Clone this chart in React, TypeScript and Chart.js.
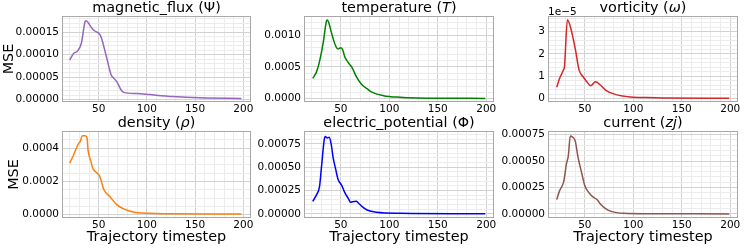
import React, { useEffect, useRef } from 'react';
import { Chart, registerables } from 'chart.js';

Chart.register(...registerables);

const FONT = '"DejaVu Sans", sans-serif';

// ---------- data ----------
const fluxSteps = [20, 24, 28, 32, 36, 37, 39, 43, 46, 51, 53, 58, 63, 65, 69, 73, 76, 90, 103, 127, 155, 198];
const fluxMSE = [8.8e-5, 1.03e-4, 1.08e-4, 1.25e-4, 1.74e-4, 1.76e-4, 1.72e-4, 1.59e-4, 1.53e-4, 1.46e-4, 1.37e-4, 9.6e-5, 5.5e-5, 4.9e-5, 3.95e-5, 2.25e-5, 1.6e-5, 1.35e-5, 1.1e-5, 6.7e-6, 3.8e-6, 2.4e-6];

const tempSteps = [21, 25, 28, 32, 35, 36, 38, 40, 43, 45, 47, 50, 52, 54, 57, 59, 62, 66, 71, 77, 83, 94, 111, 128, 163, 199];
const tempMSE = [3.2e-4, 4.27e-4, 5.84e-4, 9.0e-4, 1.215e-3, 1.24e-3, 1.178e-3, 1.057e-3, 9.0e-4, 8.2e-4, 7.84e-4, 8.05e-4, 7.68e-4, 6.63e-4, 5.84e-4, 5.42e-4, 4.79e-4, 3.47e-4, 2.32e-4, 1.58e-4, 9.5e-5, 4.8e-5, 2.2e-5, 1.1e-5, 6e-6, 5e-6];

const vortSteps = [21, 24, 28, 29, 32, 35, 40, 44, 48, 52, 56, 61, 66, 72, 83, 97, 114, 131, 199];
const vortMSE = [5.1e-6, 9.1e-6, 1.29e-5, 1.44e-5, 3.53e-5, 3.23e-5, 2.26e-5, 1.29e-5, 9.9e-6, 7.6e-6, 5.8e-6, 7.6e-6, 6.1e-6, 3.6e-6, 1.7e-6, 7.6e-7, 4.6e-7, 3.1e-7, 1.7e-7];

const densSteps = [20, 24, 29, 31, 33, 36, 38, 39, 42, 44, 48, 51, 53, 55, 62, 69, 76, 86, 103, 120, 198];
const densMSE = [3.09e-4, 3.59e-4, 4.26e-4, 4.41e-4, 4.75e-4, 4.75e-4, 4.61e-4, 3.9e-4, 3.19e-4, 2.78e-4, 2.52e-4, 2.32e-4, 1.97e-4, 1.56e-4, 1.06e-4, 5.9e-5, 3.5e-5, 1.6e-5, 8e-6, 6e-6, 4e-6];

const elecSteps = [21, 25, 28, 30, 33, 34, 36, 38, 40, 42, 45, 47, 51, 54, 58, 60, 62, 66, 68, 72, 77, 87, 111, 199];
const elecMSE = [1.36e-4, 2.07e-4, 2.93e-4, 5.0e-4, 8.04e-4, 8.29e-4, 8.14e-4, 8.21e-4, 7.5e-4, 6.07e-4, 4.64e-4, 3.75e-4, 3.04e-4, 2.32e-4, 1.61e-4, 1.25e-4, 1.32e-4, 1.36e-4, 1.18e-4, 7.9e-5, 4.3e-5, 1.8e-5, 7e-6, 2e-6];

const currSteps = [21, 24, 28, 29, 31, 33, 35, 37, 40, 43, 47, 50, 54, 57, 60, 63, 66, 71, 78, 90, 114, 199];
const currMSE = [1.36e-4, 2.21e-4, 2.99e-4, 3.47e-4, 4.73e-4, 5.52e-4, 7.38e-4, 7.3e-4, 6.94e-4, 5.36e-4, 3.78e-4, 2.68e-4, 2.05e-4, 1.73e-4, 1.51e-4, 1.32e-4, 9.5e-5, 5.4e-5, 2.2e-5, 6e-6, 2e-6, 1e-6];

// ---------- ticks ----------
const xMajorTicks = [50, 100, 150, 200];
const xMajorLabels = ['50', '100', '150', '200'];
const xMinorStep = 10;

const fluxYTicks = [0, 5e-5, 1e-4, 1.5e-4];
const fluxYLabels = ['0.00000', '0.00005', '0.00010', '0.00015'];
const tempYTicks = [0, 5e-4, 1e-3];
const tempYLabels = ['0.0000', '0.0005', '0.0010'];
const vortYTicks = [0, 1e-5, 2e-5, 3e-5];
const vortYLabels = ['0', '1', '2', '3'];
const densYTicks = [0, 2e-4, 4e-4];
const densYLabels = ['0.0000', '0.0002', '0.0004'];
const elecYTicks = [0, 2.5e-4, 5e-4, 7.5e-4];
const elecYLabels = ['0.00000', '0.00025', '0.00050', '0.00075'];
const currYTicks = [0, 2.5e-4, 5e-4, 7.5e-4];
const currYLabels = ['0.00000', '0.00025', '0.00050', '0.00075'];

// ---------- text ----------
type Seg = { t: string; it?: boolean };
const fluxTitle: Seg[] = [{ t: 'magnetic_flux (' }, { t: 'Ψ' }, { t: ')' }];
const tempTitle: Seg[] = [{ t: 'temperature (' }, { t: 'T', it: true }, { t: ')' }];
const vortTitle: Seg[] = [{ t: 'vorticity (' }, { t: 'ω', it: true }, { t: ')' }];
const densTitle: Seg[] = [{ t: 'density (' }, { t: 'ρ', it: true }, { t: ')' }];
const elecTitle: Seg[] = [{ t: 'electric_potential (' }, { t: 'Φ' }, { t: ')' }];
const currTitle: Seg[] = [{ t: 'current (' }, { t: 'zj', it: true }, { t: ')' }];
const yAxisTitle = 'MSE';
const xAxisTitle = 'Trajectory timestep';
const vortOffsetText = '1e\u22125';

// ---------- layout / style ----------
const W = 747;
const H = 248;
const colL = [62, 304, 548];
const colR = [251, 494, 738];
const rowT = [16, 131];
const rowB = [102, 218];
const xMin = 12;
const xMax = 208;
const BIG = 14.4;
const SMALL = 10.5;

type Panel = {
  title: Seg[];
  color: string;
  steps: number[];
  mse: number[];
  yMin: number;
  yMax: number;
  yTicks: number[];
  yLabels: string[];
  yMinorStep: number;
  offsetText?: string;
};

const panels: Panel[] = [
  { title: fluxTitle, color: '#9467bd', steps: fluxSteps, mse: fluxMSE, yMin: -5.5e-6, yMax: 1.865e-4, yTicks: fluxYTicks, yLabels: fluxYLabels, yMinorStep: 1e-5 },
  { title: tempTitle, color: '#008000', steps: tempSteps, mse: tempMSE, yMin: -5.2e-5, yMax: 1.304e-3, yTicks: tempYTicks, yLabels: tempYLabels, yMinorStep: 1e-4 },
  { title: vortTitle, color: '#d62728', steps: vortSteps, mse: vortMSE, yMin: -1.5e-6, yMax: 3.7e-5, yTicks: vortYTicks, yLabels: vortYLabels, yMinorStep: 2e-6, offsetText: vortOffsetText },
  { title: densTitle, color: '#ff7f0e', steps: densSteps, mse: densMSE, yMin: -2e-5, yMax: 5.03e-4, yTicks: densYTicks, yLabels: densYLabels, yMinorStep: 5e-5 },
  { title: elecTitle, color: '#0000ff', steps: elecSteps, mse: elecMSE, yMin: -4.3e-5, yMax: 8.89e-4, yTicks: elecYTicks, yLabels: elecYLabels, yMinorStep: 5e-5 },
  { title: currTitle, color: '#8c564b', steps: currSteps, mse: currMSE, yMin: -3.8e-5, yMax: 7.85e-4, yTicks: currYTicks, yLabels: currYLabels, yMinorStep: 5e-5 },
];

const MAJOR_GRID = '#d2d2d2';
const MINOR_GRID = '#ececec';
const FRAME = '#a8a8a8';

function gridValues(min: number, max: number, step: number): number[] {
  const out: number[] = [];
  const k0 = Math.ceil(min / step - 1e-9);
  const k1 = Math.floor(max / step + 1e-9);
  for (let k = k0; k <= k1; k++) out.push(+(k * step).toPrecision(10));
  return out;
}

function majorIndex(v: number, majors: number[], step: number): number {
  for (let i = 0; i < majors.length; i++) if (Math.abs(v - majors[i]) < step * 1e-3) return i;
  return -1;
}

const decorPlugin = {
  id: 'decor',
  afterDraw(chart: any, _a: any, opts: any) {
    const { ctx, chartArea } = chart;
    ctx.save();
    // frame
    ctx.strokeStyle = FRAME;
    ctx.lineWidth = 1;
    const l = Math.round(chartArea.left) + 0.5;
    const t = Math.round(chartArea.top) + 0.5;
    const r = Math.round(chartArea.right) - 0.5;
    const b = Math.round(chartArea.bottom) - 0.5;
    ctx.strokeRect(l, t, r - l, b - t);
    // title
    const segs: Seg[] = opts.segments || [];
    const fN = `${BIG}px ${FONT}`;
    const fI = `italic ${BIG}px ${FONT}`;
    const widths = segs.map((s) => {
      ctx.font = s.it ? fI : fN;
      return ctx.measureText(s.t).width;
    });
    const total = widths.reduce((a, c) => a + c, 0);
    let x = (chartArea.left + chartArea.right) / 2 - total / 2;
    const y = chartArea.top - 4;
    ctx.fillStyle = '#000';
    ctx.textBaseline = 'alphabetic';
    ctx.textAlign = 'left';
    segs.forEach((s, i) => {
      ctx.font = s.it ? fI : fN;
      ctx.fillText(s.t, x, y);
      x += widths[i];
    });
    // offset text
    if (opts.offsetText) {
      ctx.font = `${SMALL}px ${FONT}`;
      ctx.textBaseline = 'alphabetic';
      ctx.fillText(opts.offsetText, chartArea.left, chartArea.top - 1);
    }
    ctx.restore();
  },
};

function PanelChart({ p, idx }: { p: Panel; idx: number }) {
  const ref = useRef<HTMLCanvasElement>(null);
  useEffect(() => {
    const col = idx % 3;
    const row = Math.floor(idx / 3);
    const L = colL[col];
    const R = colR[col];
    const T = rowT[row];
    const B = rowB[row];
    const yAxisLeft = col === 0 ? (row === 0 ? 2 : 7) : L - 55;
    const yAxisW = L - yAxisLeft;
    const padBottom = row === 0 ? H - B - 20 : 4;
    const xAxisH = H - padBottom - B;

    const xGrid = gridValues(xMin, xMax, xMinorStep);
    const yGrid = gridValues(p.yMin, p.yMax, p.yMinorStep);

    const chart = new Chart(ref.current as HTMLCanvasElement, {
      type: 'line',
      data: {
        datasets: [
          {
            data: p.steps.map((s, i) => ({ x: s, y: p.mse[i] })),
            borderColor: p.color,
            backgroundColor: p.color,
            borderWidth: 1.5,
            pointRadius: 0,
            fill: false,
            cubicInterpolationMode: 'monotone',
          },
        ],
      },
      options: {
        animation: false,
        responsive: false,
        devicePixelRatio: 1,
        events: [],
        layout: {
          autoPadding: false,
          padding: { left: yAxisLeft, right: W - R, top: T, bottom: padBottom },
        },
        plugins: {
          legend: { display: false },
          tooltip: { enabled: false },
          title: { display: false },
          decor: { segments: p.title, offsetText: p.offsetText },
        } as any,
        scales: {
          x: {
            type: 'linear',
            min: xMin,
            max: xMax,
            bounds: 'data',
            afterBuildTicks: (scale: any) => {
              scale.ticks = xGrid.map((v) => ({ value: v }));
            },
            afterFit: (scale: any) => {
              scale.height = xAxisH;
            },
            ticks: {
              autoSkip: false,
              maxRotation: 0,
              minRotation: 0,
              padding: 1,
              color: '#000',
              font: { family: FONT, size: SMALL },
              callback: (v: any) => {
                const i = majorIndex(Number(v), xMajorTicks, xMinorStep);
                return i >= 0 ? xMajorLabels[i] : '';
              },
            },
            grid: {
              drawTicks: false,
              lineWidth: 1,
              color: (c: any) =>
                c.tick && majorIndex(c.tick.value, xMajorTicks, xMinorStep) >= 0 ? MAJOR_GRID : MINOR_GRID,
            },
            border: { display: false },
            title: {
              display: row === 1,
              text: xAxisTitle,
              color: '#000',
              font: { family: FONT, size: BIG, lineHeight: 1 },
              padding: 0,
            },
          },
          y: {
            type: 'linear',
            min: p.yMin,
            max: p.yMax,
            bounds: 'data',
            afterBuildTicks: (scale: any) => {
              scale.ticks = yGrid.map((v) => ({ value: v }));
            },
            afterFit: (scale: any) => {
              scale.width = yAxisW;
            },
            ticks: {
              autoSkip: false,
              padding: 3,
              color: '#000',
              font: { family: FONT, size: SMALL },
              callback: (v: any) => {
                const i = majorIndex(Number(v), p.yTicks, p.yMinorStep);
                return i >= 0 ? p.yLabels[i] : '';
              },
            },
            grid: {
              drawTicks: false,
              lineWidth: 1,
              color: (c: any) =>
                c.tick && majorIndex(c.tick.value, p.yTicks, p.yMinorStep) >= 0 ? MAJOR_GRID : MINOR_GRID,
            },
            border: { display: false },
            title: {
              display: col === 0,
              text: yAxisTitle,
              color: '#000',
              font: { family: FONT, size: BIG, lineHeight: 1 },
              padding: 0,
            },
          },
        },
      } as any,
      plugins: [decorPlugin],
    });
    return () => chart.destroy();
  }, [p, idx]);

  return (
    <canvas
      ref={ref}
      width={W}
      height={H}
      style={{ position: 'absolute', left: 0, top: 0, width: W, height: H }}
    />
  );
}

export default function App() {
  return (
    <div style={{ position: 'absolute', left: 0, top: 0, width: W, height: H, background: '#fff', overflow: 'hidden' }}>
      {panels.map((p, i) => (
        <PanelChart key={i} p={p} idx={i} />
      ))}
    </div>
  );
}
